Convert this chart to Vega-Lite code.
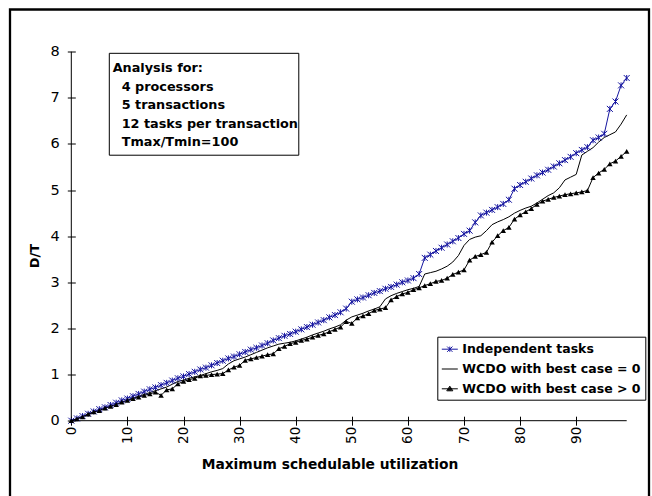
{
  "$schema": "https://vega.github.io/schema/vega-lite/v6.json",
  "width": 639,
  "height": 492,
  "autosize": {"type": "none"},
  "padding": {"left": 10, "top": 9.5, "right": 3, "bottom": 0},
  "background": "white",
  "config": {"view": {"stroke": "black", "strokeWidth": 2.3}, "font": "DejaVu Sans"},
  "data": {"values": [
    {"u":0,"s":"Independent tasks","dt":0},{"u":1,"s":"Independent tasks","dt":0.05},{"u":2,"s":"Independent tasks","dt":0.10},{"u":3,"s":"Independent tasks","dt":0.15},{"u":4,"s":"Independent tasks","dt":0.20},
    {"u":5,"s":"Independent tasks","dt":0.25},{"u":6,"s":"Independent tasks","dt":0.29},{"u":7,"s":"Independent tasks","dt":0.34},{"u":8,"s":"Independent tasks","dt":0.39},{"u":9,"s":"Independent tasks","dt":0.44},
    {"u":10,"s":"Independent tasks","dt":0.48},{"u":11,"s":"Independent tasks","dt":0.53},{"u":12,"s":"Independent tasks","dt":0.58},{"u":13,"s":"Independent tasks","dt":0.63},{"u":14,"s":"Independent tasks","dt":0.68},
    {"u":15,"s":"Independent tasks","dt":0.72},{"u":16,"s":"Independent tasks","dt":0.77},{"u":17,"s":"Independent tasks","dt":0.82},{"u":18,"s":"Independent tasks","dt":0.87},{"u":19,"s":"Independent tasks","dt":0.92},
    {"u":20,"s":"Independent tasks","dt":0.96},{"u":21,"s":"Independent tasks","dt":1.01},{"u":22,"s":"Independent tasks","dt":1.06},{"u":23,"s":"Independent tasks","dt":1.11},{"u":24,"s":"Independent tasks","dt":1.15},
    {"u":25,"s":"Independent tasks","dt":1.20},{"u":26,"s":"Independent tasks","dt":1.25},{"u":27,"s":"Independent tasks","dt":1.30},{"u":28,"s":"Independent tasks","dt":1.35},{"u":29,"s":"Independent tasks","dt":1.39},
    {"u":30,"s":"Independent tasks","dt":1.44},{"u":31,"s":"Independent tasks","dt":1.49},{"u":32,"s":"Independent tasks","dt":1.54},{"u":33,"s":"Independent tasks","dt":1.58},{"u":34,"s":"Independent tasks","dt":1.63},
    {"u":35,"s":"Independent tasks","dt":1.68},{"u":36,"s":"Independent tasks","dt":1.74},{"u":37,"s":"Independent tasks","dt":1.79},{"u":38,"s":"Independent tasks","dt":1.84},{"u":39,"s":"Independent tasks","dt":1.88},
    {"u":40,"s":"Independent tasks","dt":1.93},{"u":41,"s":"Independent tasks","dt":1.98},{"u":42,"s":"Independent tasks","dt":2.03},{"u":43,"s":"Independent tasks","dt":2.08},{"u":44,"s":"Independent tasks","dt":2.13},
    {"u":45,"s":"Independent tasks","dt":2.18},{"u":46,"s":"Independent tasks","dt":2.24},{"u":47,"s":"Independent tasks","dt":2.29},{"u":48,"s":"Independent tasks","dt":2.35},{"u":49,"s":"Independent tasks","dt":2.43},
    {"u":50,"s":"Independent tasks","dt":2.58},{"u":51,"s":"Independent tasks","dt":2.63},{"u":52,"s":"Independent tasks","dt":2.67},{"u":53,"s":"Independent tasks","dt":2.72},{"u":54,"s":"Independent tasks","dt":2.77},
    {"u":55,"s":"Independent tasks","dt":2.81},{"u":56,"s":"Independent tasks","dt":2.86},{"u":57,"s":"Independent tasks","dt":2.90},{"u":58,"s":"Independent tasks","dt":2.95},{"u":59,"s":"Independent tasks","dt":3.00},
    {"u":60,"s":"Independent tasks","dt":3.04},{"u":61,"s":"Independent tasks","dt":3.09},{"u":62,"s":"Independent tasks","dt":3.18},{"u":63,"s":"Independent tasks","dt":3.53},{"u":64,"s":"Independent tasks","dt":3.60},
    {"u":65,"s":"Independent tasks","dt":3.68},{"u":66,"s":"Independent tasks","dt":3.75},{"u":67,"s":"Independent tasks","dt":3.82},{"u":68,"s":"Independent tasks","dt":3.89},{"u":69,"s":"Independent tasks","dt":3.96},
    {"u":70,"s":"Independent tasks","dt":4.05},{"u":71,"s":"Independent tasks","dt":4.12},{"u":72,"s":"Independent tasks","dt":4.30},{"u":73,"s":"Independent tasks","dt":4.45},{"u":74,"s":"Independent tasks","dt":4.51},
    {"u":75,"s":"Independent tasks","dt":4.57},{"u":76,"s":"Independent tasks","dt":4.63},{"u":77,"s":"Independent tasks","dt":4.70},{"u":78,"s":"Independent tasks","dt":4.79},{"u":79,"s":"Independent tasks","dt":5.03},
    {"u":80,"s":"Independent tasks","dt":5.11},{"u":81,"s":"Independent tasks","dt":5.18},{"u":82,"s":"Independent tasks","dt":5.25},{"u":83,"s":"Independent tasks","dt":5.32},{"u":84,"s":"Independent tasks","dt":5.38},
    {"u":85,"s":"Independent tasks","dt":5.44},{"u":86,"s":"Independent tasks","dt":5.51},{"u":87,"s":"Independent tasks","dt":5.58},{"u":88,"s":"Independent tasks","dt":5.65},{"u":89,"s":"Independent tasks","dt":5.72},
    {"u":90,"s":"Independent tasks","dt":5.80},{"u":91,"s":"Independent tasks","dt":5.87},{"u":92,"s":"Independent tasks","dt":5.93},{"u":93,"s":"Independent tasks","dt":6.08},{"u":94,"s":"Independent tasks","dt":6.14},
    {"u":95,"s":"Independent tasks","dt":6.22},{"u":96,"s":"Independent tasks","dt":6.76},{"u":97,"s":"Independent tasks","dt":6.92},{"u":98,"s":"Independent tasks","dt":7.27},{"u":99,"s":"Independent tasks","dt":7.43},

    {"u":0,"s":"WCDO with best case = 0","dt":0},{"u":1,"s":"WCDO with best case = 0","dt":0.04},{"u":2,"s":"WCDO with best case = 0","dt":0.09},{"u":3,"s":"WCDO with best case = 0","dt":0.13},{"u":4,"s":"WCDO with best case = 0","dt":0.18},
    {"u":5,"s":"WCDO with best case = 0","dt":0.22},{"u":6,"s":"WCDO with best case = 0","dt":0.27},{"u":7,"s":"WCDO with best case = 0","dt":0.31},{"u":8,"s":"WCDO with best case = 0","dt":0.36},{"u":9,"s":"WCDO with best case = 0","dt":0.40},
    {"u":10,"s":"WCDO with best case = 0","dt":0.45},{"u":11,"s":"WCDO with best case = 0","dt":0.49},{"u":12,"s":"WCDO with best case = 0","dt":0.53},{"u":13,"s":"WCDO with best case = 0","dt":0.57},{"u":14,"s":"WCDO with best case = 0","dt":0.61},
    {"u":15,"s":"WCDO with best case = 0","dt":0.65},{"u":16,"s":"WCDO with best case = 0","dt":0.69},{"u":17,"s":"WCDO with best case = 0","dt":0.73},{"u":18,"s":"WCDO with best case = 0","dt":0.79},{"u":19,"s":"WCDO with best case = 0","dt":0.85},
    {"u":20,"s":"WCDO with best case = 0","dt":0.88},{"u":21,"s":"WCDO with best case = 0","dt":0.92},{"u":22,"s":"WCDO with best case = 0","dt":0.95},{"u":23,"s":"WCDO with best case = 0","dt":0.98},{"u":24,"s":"WCDO with best case = 0","dt":1.02},
    {"u":25,"s":"WCDO with best case = 0","dt":1.06},{"u":26,"s":"WCDO with best case = 0","dt":1.09},{"u":27,"s":"WCDO with best case = 0","dt":1.13},{"u":28,"s":"WCDO with best case = 0","dt":1.23},{"u":29,"s":"WCDO with best case = 0","dt":1.30},
    {"u":30,"s":"WCDO with best case = 0","dt":1.34},{"u":31,"s":"WCDO with best case = 0","dt":1.38},{"u":32,"s":"WCDO with best case = 0","dt":1.43},{"u":33,"s":"WCDO with best case = 0","dt":1.48},{"u":34,"s":"WCDO with best case = 0","dt":1.53},
    {"u":35,"s":"WCDO with best case = 0","dt":1.58},{"u":36,"s":"WCDO with best case = 0","dt":1.62},{"u":37,"s":"WCDO with best case = 0","dt":1.66},{"u":38,"s":"WCDO with best case = 0","dt":1.68},{"u":39,"s":"WCDO with best case = 0","dt":1.70},
    {"u":40,"s":"WCDO with best case = 0","dt":1.73},{"u":41,"s":"WCDO with best case = 0","dt":1.77},{"u":42,"s":"WCDO with best case = 0","dt":1.81},{"u":43,"s":"WCDO with best case = 0","dt":1.86},{"u":44,"s":"WCDO with best case = 0","dt":1.90},
    {"u":45,"s":"WCDO with best case = 0","dt":1.94},{"u":46,"s":"WCDO with best case = 0","dt":1.99},{"u":47,"s":"WCDO with best case = 0","dt":2.03},{"u":48,"s":"WCDO with best case = 0","dt":2.08},{"u":49,"s":"WCDO with best case = 0","dt":2.18},
    {"u":50,"s":"WCDO with best case = 0","dt":2.25},{"u":51,"s":"WCDO with best case = 0","dt":2.29},{"u":52,"s":"WCDO with best case = 0","dt":2.33},{"u":53,"s":"WCDO with best case = 0","dt":2.38},{"u":54,"s":"WCDO with best case = 0","dt":2.42},
    {"u":55,"s":"WCDO with best case = 0","dt":2.47},{"u":56,"s":"WCDO with best case = 0","dt":2.64},{"u":57,"s":"WCDO with best case = 0","dt":2.71},{"u":58,"s":"WCDO with best case = 0","dt":2.76},{"u":59,"s":"WCDO with best case = 0","dt":2.80},
    {"u":60,"s":"WCDO with best case = 0","dt":2.84},{"u":61,"s":"WCDO with best case = 0","dt":2.87},{"u":62,"s":"WCDO with best case = 0","dt":2.91},{"u":63,"s":"WCDO with best case = 0","dt":3.18},{"u":64,"s":"WCDO with best case = 0","dt":3.21},
    {"u":65,"s":"WCDO with best case = 0","dt":3.24},{"u":66,"s":"WCDO with best case = 0","dt":3.29},{"u":67,"s":"WCDO with best case = 0","dt":3.35},{"u":68,"s":"WCDO with best case = 0","dt":3.44},{"u":69,"s":"WCDO with best case = 0","dt":3.58},
    {"u":70,"s":"WCDO with best case = 0","dt":3.80},{"u":71,"s":"WCDO with best case = 0","dt":3.93},{"u":72,"s":"WCDO with best case = 0","dt":3.98},{"u":73,"s":"WCDO with best case = 0","dt":4.01},{"u":74,"s":"WCDO with best case = 0","dt":4.12},
    {"u":75,"s":"WCDO with best case = 0","dt":4.25},{"u":76,"s":"WCDO with best case = 0","dt":4.31},{"u":77,"s":"WCDO with best case = 0","dt":4.36},{"u":78,"s":"WCDO with best case = 0","dt":4.42},{"u":79,"s":"WCDO with best case = 0","dt":4.50},
    {"u":80,"s":"WCDO with best case = 0","dt":4.56},{"u":81,"s":"WCDO with best case = 0","dt":4.61},{"u":82,"s":"WCDO with best case = 0","dt":4.65},{"u":83,"s":"WCDO with best case = 0","dt":4.72},{"u":84,"s":"WCDO with best case = 0","dt":4.80},
    {"u":85,"s":"WCDO with best case = 0","dt":4.88},{"u":86,"s":"WCDO with best case = 0","dt":4.94},{"u":87,"s":"WCDO with best case = 0","dt":5.05},{"u":88,"s":"WCDO with best case = 0","dt":5.22},{"u":89,"s":"WCDO with best case = 0","dt":5.28},
    {"u":90,"s":"WCDO with best case = 0","dt":5.34},{"u":91,"s":"WCDO with best case = 0","dt":5.76},{"u":92,"s":"WCDO with best case = 0","dt":5.84},{"u":93,"s":"WCDO with best case = 0","dt":5.92},{"u":94,"s":"WCDO with best case = 0","dt":6.04},
    {"u":95,"s":"WCDO with best case = 0","dt":6.14},{"u":96,"s":"WCDO with best case = 0","dt":6.20},{"u":97,"s":"WCDO with best case = 0","dt":6.26},{"u":98,"s":"WCDO with best case = 0","dt":6.43},{"u":99,"s":"WCDO with best case = 0","dt":6.63},

    {"u":0,"s":"WCDO with best case > 0","dt":0},{"u":1,"s":"WCDO with best case > 0","dt":0.04},{"u":2,"s":"WCDO with best case > 0","dt":0.08},{"u":3,"s":"WCDO with best case > 0","dt":0.14},{"u":4,"s":"WCDO with best case > 0","dt":0.19},
    {"u":5,"s":"WCDO with best case > 0","dt":0.22},{"u":6,"s":"WCDO with best case > 0","dt":0.27},{"u":7,"s":"WCDO with best case > 0","dt":0.31},{"u":8,"s":"WCDO with best case > 0","dt":0.35},{"u":9,"s":"WCDO with best case > 0","dt":0.40},
    {"u":10,"s":"WCDO with best case > 0","dt":0.44},{"u":11,"s":"WCDO with best case > 0","dt":0.48},{"u":12,"s":"WCDO with best case > 0","dt":0.51},{"u":13,"s":"WCDO with best case > 0","dt":0.55},{"u":14,"s":"WCDO with best case > 0","dt":0.58},
    {"u":15,"s":"WCDO with best case > 0","dt":0.62},{"u":16,"s":"WCDO with best case > 0","dt":0.55},{"u":17,"s":"WCDO with best case > 0","dt":0.67},{"u":18,"s":"WCDO with best case > 0","dt":0.69},{"u":19,"s":"WCDO with best case > 0","dt":0.80},
    {"u":20,"s":"WCDO with best case > 0","dt":0.85},{"u":21,"s":"WCDO with best case > 0","dt":0.89},{"u":22,"s":"WCDO with best case > 0","dt":0.92},{"u":23,"s":"WCDO with best case > 0","dt":0.97},{"u":24,"s":"WCDO with best case > 0","dt":0.98},
    {"u":25,"s":"WCDO with best case > 0","dt":1.00},{"u":26,"s":"WCDO with best case > 0","dt":1.01},{"u":27,"s":"WCDO with best case > 0","dt":1.02},{"u":28,"s":"WCDO with best case > 0","dt":1.10},{"u":29,"s":"WCDO with best case > 0","dt":1.16},
    {"u":30,"s":"WCDO with best case > 0","dt":1.20},{"u":31,"s":"WCDO with best case > 0","dt":1.31},{"u":32,"s":"WCDO with best case > 0","dt":1.34},{"u":33,"s":"WCDO with best case > 0","dt":1.37},{"u":34,"s":"WCDO with best case > 0","dt":1.40},
    {"u":35,"s":"WCDO with best case > 0","dt":1.43},{"u":36,"s":"WCDO with best case > 0","dt":1.45},{"u":37,"s":"WCDO with best case > 0","dt":1.56},{"u":38,"s":"WCDO with best case > 0","dt":1.61},{"u":39,"s":"WCDO with best case > 0","dt":1.67},
    {"u":40,"s":"WCDO with best case > 0","dt":1.70},{"u":41,"s":"WCDO with best case > 0","dt":1.74},{"u":42,"s":"WCDO with best case > 0","dt":1.77},{"u":43,"s":"WCDO with best case > 0","dt":1.81},{"u":44,"s":"WCDO with best case > 0","dt":1.85},
    {"u":45,"s":"WCDO with best case > 0","dt":1.88},{"u":46,"s":"WCDO with best case > 0","dt":1.93},{"u":47,"s":"WCDO with best case > 0","dt":1.98},{"u":48,"s":"WCDO with best case > 0","dt":2.03},{"u":49,"s":"WCDO with best case > 0","dt":2.15},
    {"u":50,"s":"WCDO with best case > 0","dt":2.11},{"u":51,"s":"WCDO with best case > 0","dt":2.23},{"u":52,"s":"WCDO with best case > 0","dt":2.27},{"u":53,"s":"WCDO with best case > 0","dt":2.32},{"u":54,"s":"WCDO with best case > 0","dt":2.39},
    {"u":55,"s":"WCDO with best case > 0","dt":2.42},{"u":56,"s":"WCDO with best case > 0","dt":2.45},{"u":57,"s":"WCDO with best case > 0","dt":2.62},{"u":58,"s":"WCDO with best case > 0","dt":2.69},{"u":59,"s":"WCDO with best case > 0","dt":2.75},
    {"u":60,"s":"WCDO with best case > 0","dt":2.78},{"u":61,"s":"WCDO with best case > 0","dt":2.84},{"u":62,"s":"WCDO with best case > 0","dt":2.88},{"u":63,"s":"WCDO with best case > 0","dt":2.93},{"u":64,"s":"WCDO with best case > 0","dt":2.97},
    {"u":65,"s":"WCDO with best case > 0","dt":3.02},{"u":66,"s":"WCDO with best case > 0","dt":3.04},{"u":67,"s":"WCDO with best case > 0","dt":3.09},{"u":68,"s":"WCDO with best case > 0","dt":3.17},{"u":69,"s":"WCDO with best case > 0","dt":3.22},
    {"u":70,"s":"WCDO with best case > 0","dt":3.27},{"u":71,"s":"WCDO with best case > 0","dt":3.48},{"u":72,"s":"WCDO with best case > 0","dt":3.56},{"u":73,"s":"WCDO with best case > 0","dt":3.60},{"u":74,"s":"WCDO with best case > 0","dt":3.65},
    {"u":75,"s":"WCDO with best case > 0","dt":3.87},{"u":76,"s":"WCDO with best case > 0","dt":4.01},{"u":77,"s":"WCDO with best case > 0","dt":4.12},{"u":78,"s":"WCDO with best case > 0","dt":4.19},{"u":79,"s":"WCDO with best case > 0","dt":4.37},
    {"u":80,"s":"WCDO with best case > 0","dt":4.46},{"u":81,"s":"WCDO with best case > 0","dt":4.53},{"u":82,"s":"WCDO with best case > 0","dt":4.60},{"u":83,"s":"WCDO with best case > 0","dt":4.69},{"u":84,"s":"WCDO with best case > 0","dt":4.76},
    {"u":85,"s":"WCDO with best case > 0","dt":4.80},{"u":86,"s":"WCDO with best case > 0","dt":4.84},{"u":87,"s":"WCDO with best case > 0","dt":4.87},{"u":88,"s":"WCDO with best case > 0","dt":4.90},{"u":89,"s":"WCDO with best case > 0","dt":4.92},
    {"u":90,"s":"WCDO with best case > 0","dt":4.94},{"u":91,"s":"WCDO with best case > 0","dt":4.96},{"u":92,"s":"WCDO with best case > 0","dt":4.99},{"u":93,"s":"WCDO with best case > 0","dt":5.27},{"u":94,"s":"WCDO with best case > 0","dt":5.37},
    {"u":95,"s":"WCDO with best case > 0","dt":5.45},{"u":96,"s":"WCDO with best case > 0","dt":5.57},{"u":97,"s":"WCDO with best case > 0","dt":5.63},{"u":98,"s":"WCDO with best case > 0","dt":5.73},{"u":99,"s":"WCDO with best case > 0","dt":5.84}
  ]},
  "layer": [
    {
      "mark": {"type": "line", "strokeWidth": 1},
      "encoding": {
        "x": {"field": "u", "type": "quantitative",
              "scale": {"domain": [-10.927, 102.975], "nice": false, "zero": false},
              "axis": {"values": [0,10,20,30,40,50,60,70,80,90], "labelAngle": -90, "domain": false, "grid": false,
                       "tickSize": 9, "tickColor": "black", "tickWidth": 1, "offset": -85.3, "labelPadding": 1,
                       "labelFont": "DejaVu Sans", "labelFontSize": 13.5, "labelColor": "black", "labelFlush": false, "labelOverlap": false,
                       "title": "Maximum schedulable utilization", "titleFont": "DejaVu Sans", "titleFontSize": 13.8,
                       "titleFontWeight": "bold", "titleColor": "black", "titlePadding": 14}},
        "y": {"field": "dt", "type": "quantitative",
              "scale": {"domain": [-1.752, 8.915], "nice": false, "zero": false},
              "axis": {"values": [0,1,2,3,4,5,6,7,8], "domain": false, "grid": false,
                       "tickSize": 8, "tickColor": "black", "tickWidth": 1, "offset": -65.3, "labelPadding": 8,
                       "labelFont": "DejaVu Sans", "labelFontSize": 14.5, "labelColor": "black", "labelFlush": false, "labelOverlap": false,
                       "title": "D/T", "titleFont": "DejaVu Sans", "titleFontSize": 13, "titleFontWeight": "bold",
                       "titleColor": "black", "titlePadding": 9}},
        "detail": {"field": "s", "type": "nominal"},
        "color": {"condition": {"test": "datum.s == 'Independent tasks'", "value": "#1616a0"}, "value": "black"}
      }
    },
    {
      "data": {"values": [{"note": "box"}]},
      "mark": {"type": "rect", "fill": "white", "stroke": "black", "strokeWidth": 1},
      "encoding": {
        "x": {"datum": 6.774, "type": "quantitative"},
        "x2": {"datum": 40.55},
        "y": {"datum": 7.965, "type": "quantitative"},
        "y2": {"datum": 5.756}
      }
    },
    {
      "data": {"values": [{"note": "head"}]},
      "mark": {"type": "text", "align": "left", "baseline": "alphabetic", "font": "DejaVu Sans", "fontWeight": "bold", "fontSize": 12.8, "color": "black", "text": "Analysis for:"},
      "encoding": {
        "x": {"datum": 7.38, "type": "quantitative"},
        "y": {"datum": 7.556, "type": "quantitative"}
      }
    },
    {
      "data": {"values": [{"note": "lines"}]},
      "mark": {"type": "text", "align": "left", "baseline": "alphabetic", "font": "DejaVu Sans", "fontWeight": "bold", "fontSize": 12.8, "color": "black", "lineHeight": 18.45,
               "text": ["4 processors", "5 transactions", "12 tasks per transaction", "Tmax/Tmin=100"]},
      "encoding": {
        "x": {"datum": 8.98, "type": "quantitative"},
        "y": {"datum": 7.155, "type": "quantitative"}
      }
    },
    {
      "data": {"values": [{"note": "xaxis"}]},
      "mark": {"type": "rule", "color": "black", "strokeWidth": 1},
      "encoding": {
        "x": {"datum": 0, "type": "quantitative"},
        "x2": {"datum": 99},
        "y": {"datum": 0, "type": "quantitative"}
      }
    },
    {
      "data": {"values": [{"note": "yaxis"}]},
      "mark": {"type": "rule", "color": "black", "strokeWidth": 1},
      "encoding": {
        "x": {"datum": 0, "type": "quantitative"},
        "y": {"datum": 0, "type": "quantitative"},
        "y2": {"datum": 8}
      }
    },
    {
      "transform": [{"filter": "datum.s == 'Independent tasks'"}],
      "mark": {"type": "point", "shape": "M-1,-1L1,1M-1,1L1,-1M0,-1L0,1", "size": 36, "filled": false, "color": "#1616a0", "strokeWidth": 1, "opacity": 1},
      "encoding": {
        "x": {"field": "u", "type": "quantitative"},
        "y": {"field": "dt", "type": "quantitative"}
      }
    },
    {
      "transform": [{"filter": "datum.s == 'WCDO with best case > 0'"}],
      "mark": {"type": "point", "shape": "triangle-up", "size": 30, "filled": true, "color": "black", "opacity": 1},
      "encoding": {
        "x": {"field": "u", "type": "quantitative"},
        "y": {"field": "dt", "type": "quantitative"}
      }
    },
    {
      "transform": [{"filter": "false"}],
      "mark": {"type": "point", "filled": false, "strokeWidth": 1, "opacity": 1},
      "encoding": {
        "color": {"field": "s", "type": "nominal",
                  "scale": {"domain": ["Independent tasks", "WCDO with best case = 0", "WCDO with best case > 0"], "range": ["#1616a0", "black", "black"]},
                  "legend": {"orient": "none", "legendX": 427.3, "legendY": 327.2, "title": null, "strokeColor": "black", "fillColor": "white",
                             "padding": 4, "symbolSize": 256, "symbolStrokeWidth": 1, "labelFont": "DejaVu Sans", "labelFontSize": 12.5,
                             "labelFontWeight": "bold", "labelColor": "black", "labelOffset": 4, "rowPadding": 4.8, "labelLimit": 400}},
        "shape": {"field": "s", "type": "nominal",
                  "scale": {"domain": ["Independent tasks", "WCDO with best case = 0", "WCDO with best case > 0"],
                            "range": ["M-1,0L1,0M-0.33,-0.33L0.33,0.33M-0.33,0.33L0.33,-0.33M0,-0.33L0,0.33",
                                      "M-1,0L1,0",
                                      "M-1,0L1,0M0,-0.33L0.38,0.25L-0.38,0.25ZM0,-0.18L0.22,0.16L-0.22,0.16ZM0,-0.05L0.08,0.1L-0.08,0.1Z"]},
                  "legend": {"orient": "none", "legendX": 427.3, "legendY": 327.2, "title": null, "strokeColor": "black", "fillColor": "white",
                             "padding": 4, "symbolSize": 256, "symbolStrokeWidth": 1, "labelFont": "DejaVu Sans", "labelFontSize": 12.5,
                             "labelFontWeight": "bold", "labelColor": "black", "labelOffset": 4, "rowPadding": 4.8, "labelLimit": 400}}
      }
    }
  ]
}
